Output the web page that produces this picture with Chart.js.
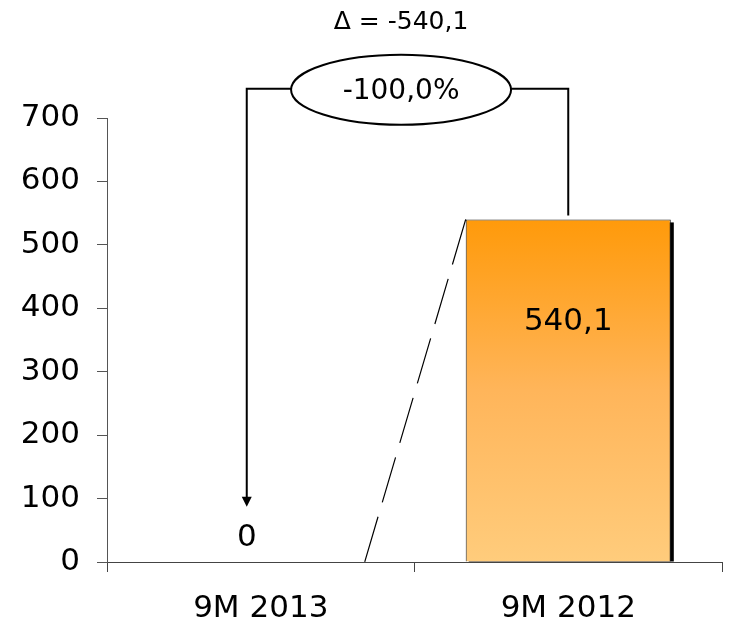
<!DOCTYPE html>
<html>
<head>
<meta charset="utf-8">
<script src="https://cdn.jsdelivr.net/npm/chart.js@4/dist/chart.umd.min.js"></script>
<style>
  body { margin: 0; background: #fff; }
</style>
</head>
<body>
<canvas id="myChart" width="731" height="637"></canvas>
<script>
let categories = ['9M 2013', '9M 2012'];
let values = [0, 540.1];
let valueLabels = ['0', '540,1'];
let yTicks = [0, 100, 200, 300, 400, 500, 600, 700];
let deltaText = '\u0394 = -540,1';
let changeText = '-100,0%';

let fontName = '"DejaVu Sans", Verdana, sans-serif';

// shadow on the right side of the bar
let barShadow = {
    id: 'barShadow',
    beforeDatasetsDraw(chart) {
        let ctx = chart.ctx;
        let meta = chart.getDatasetMeta(0);
        meta.data.forEach(function (bar, i) {
            if (values[i] <= 0) return;
            let left = bar.x - bar.width / 2;
            ctx.save();
            ctx.fillStyle = '#000';
            ctx.fillRect(left + 3, bar.y + 3, bar.width, bar.base - bar.y - 3);
            ctx.restore();
        });
    }
};

// bracket, ellipse, arrow, dashed line and value labels
let annotations = {
    id: 'annotations',
    afterDatasetsDraw(chart) {
        let ctx = chart.ctx;
        let x = chart.scales.x;
        let y = chart.scales.y;
        let meta = chart.getDatasetMeta(0);
        let bar = meta.data[1];
        let barLeft = bar.x - bar.width / 2;

        let xa = x.getPixelForValue(0) - 14;
        let xb = bar.x;
        let yTop = y.getPixelForValue(746);
        let yArrow = y.getPixelForValue(87);
        let yBarTop = bar.y - 4;
        let cx = xa + (xb - xa) * 0.48;
        let rx = 110, ry = 35;

        ctx.save();
        ctx.strokeStyle = '#000';
        ctx.lineWidth = 2;

        // left leg with arrow
        ctx.beginPath();
        ctx.moveTo(cx - rx, yTop);
        ctx.lineTo(xa, yTop);
        ctx.lineTo(xa, yArrow - 8);
        ctx.stroke();
        ctx.beginPath();
        ctx.moveTo(xa - 5, yArrow - 10);
        ctx.lineTo(xa + 5, yArrow - 10);
        ctx.lineTo(xa, yArrow);
        ctx.closePath();
        ctx.fillStyle = '#000';
        ctx.fill();

        // right leg
        ctx.beginPath();
        ctx.moveTo(cx + rx, yTop);
        ctx.lineTo(xb, yTop);
        ctx.lineTo(xb, yBarTop);
        ctx.stroke();

        // ellipse
        ctx.beginPath();
        ctx.ellipse(cx, yTop + 1, rx, ry, 0, 0, Math.PI * 2);
        ctx.fillStyle = '#fff';
        ctx.fill();
        ctx.stroke();

        // dashed line from bar corner down to the axis
        ctx.lineWidth = 1.2;
        ctx.setLineDash([47, 15]);
        ctx.beginPath();
        ctx.moveTo(barLeft, bar.y);
        ctx.lineTo(barLeft - 101, y.getPixelForValue(0));
        ctx.stroke();
        ctx.setLineDash([]);

        // texts
        ctx.fillStyle = '#000';
        ctx.textAlign = 'center';
        ctx.textBaseline = 'middle';
        ctx.font = '28px ' + fontName;
        ctx.fillText(changeText, cx, yTop + 3);
        ctx.font = '25px ' + fontName;
        ctx.fillText(deltaText, cx, y.getPixelForValue(851));
        ctx.font = '31px ' + fontName;
        ctx.fillText(valueLabels[0], xa, y.getPixelForValue(38));
        ctx.fillText(valueLabels[1], bar.x, bar.y + (bar.base - bar.y) * 0.3);
        ctx.restore();
    }
};

let ctxChart = document.getElementById('myChart').getContext('2d');

let chart1 = new Chart(ctxChart, {
    type: 'bar',
    data: {
        labels: categories,
        datasets: [{
            data: values,
            backgroundColor: function (context) {
                let area = context.chart.chartArea;
                if (!area) return '#FFA940';
                let g = context.chart.ctx.createLinearGradient(0, context.chart.scales.y.getPixelForValue(540.1), 0, area.bottom);
                g.addColorStop(0, '#FF9A0A');
                g.addColorStop(0.5, '#FFB55A');
                g.addColorStop(1, '#FFCC7C');
                return g;
            },
            borderColor: '#222',
            borderWidth: 1,
            barPercentage: 0.667,
            categoryPercentage: 1
        }]
    },
    plugins: [barShadow, annotations],
    options: {
        responsive: false,
        animation: false,
        layout: {
            padding: { top: 118, right: 9, left: 0, bottom: 0 }
        },
        plugins: {
            legend: { display: false },
            tooltip: { enabled: false }
        },
        scales: {
            x: {
                grid: {
                    offset: true,
                    drawOnChartArea: false,
                    tickLength: 10,
                    color: '#444'
                },
                border: { color: '#444', width: 1 },
                ticks: {
                    padding: 18,
                    color: '#000',
                    font: { family: fontName, size: 31 }
                },
                afterFit: function (scale) { scale.height = 75; }
            },
            y: {
                min: 0,
                max: 700,
                afterBuildTicks: function (scale) {
                    scale.ticks = yTicks.map(function (v) { return { value: v }; });
                },
                grid: {
                    drawOnChartArea: false,
                    tickLength: 10,
                    color: '#555'
                },
                border: { color: '#555', width: 1 },
                ticks: {
                    padding: 17,
                    color: '#000',
                    font: { family: fontName, size: 31 }
                },
                afterFit: function (scale) { scale.width = 107; }
            }
        }
    }
});
</script>
</body>
</html>
